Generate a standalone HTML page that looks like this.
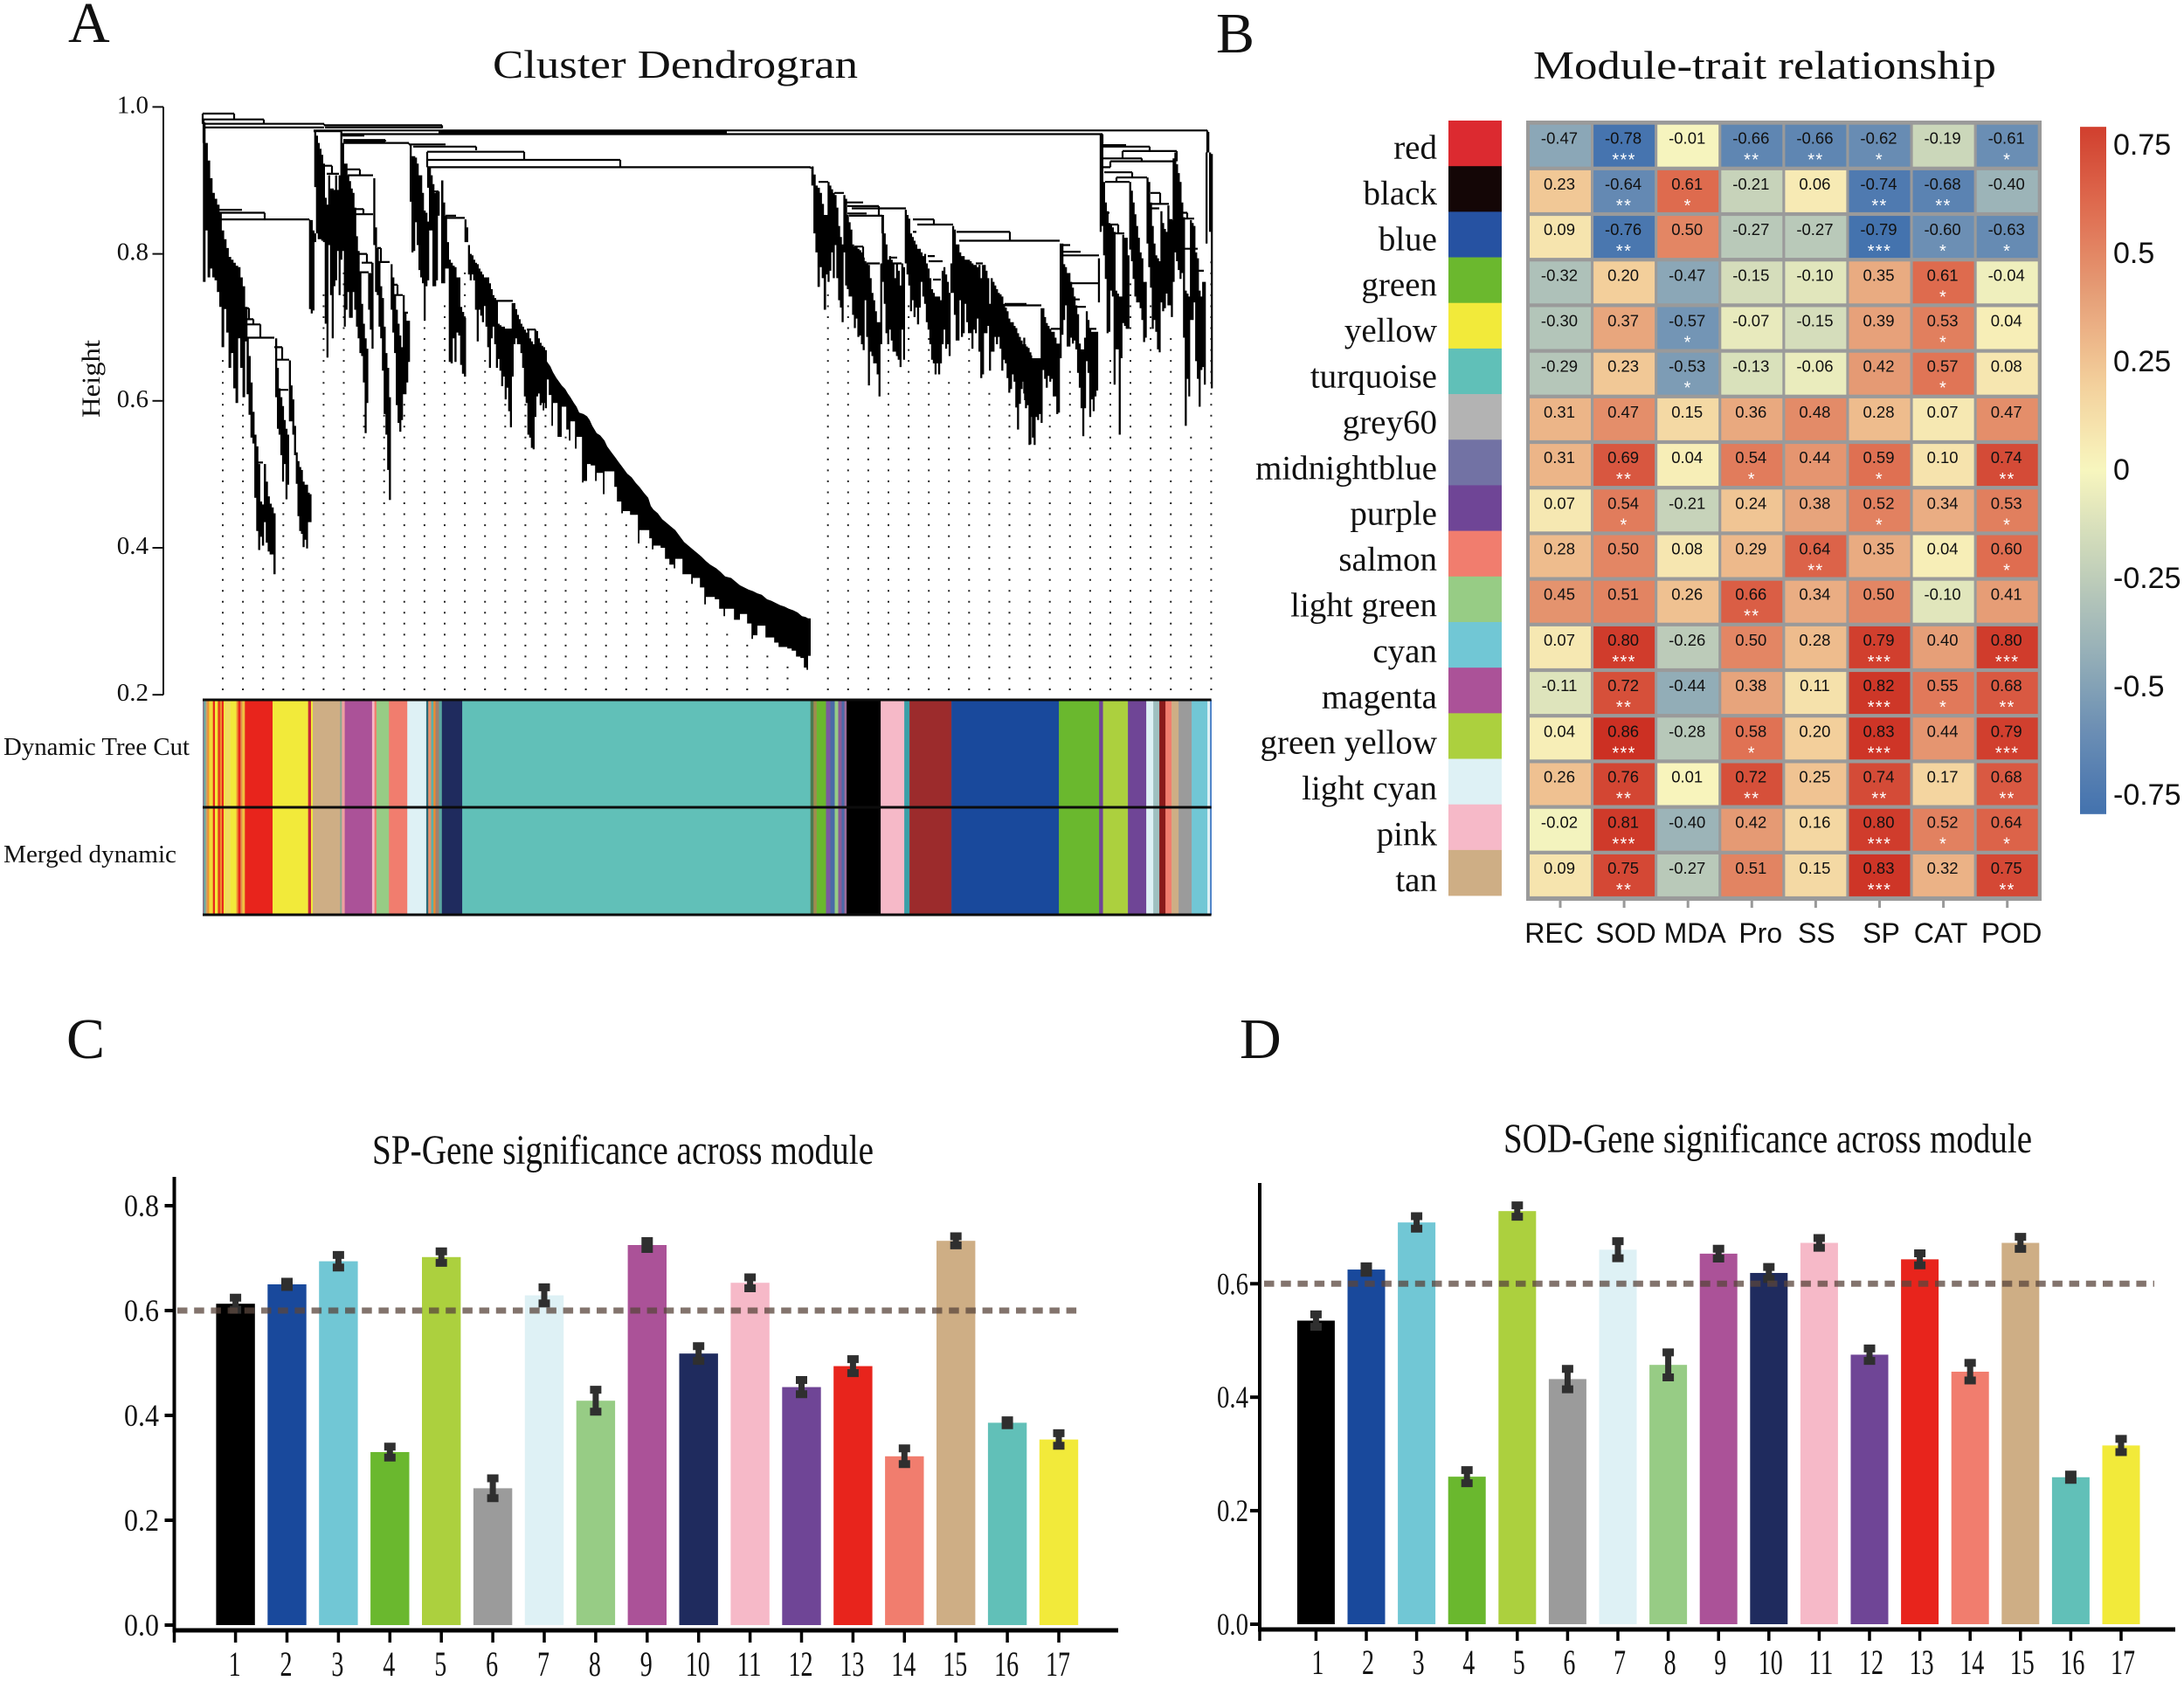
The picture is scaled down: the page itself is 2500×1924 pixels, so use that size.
<!DOCTYPE html>
<html lang="en">
<head>
<meta charset="utf-8">
<title>WGCNA module figure</title>
<style>
html,body{margin:0;padding:0;background:#fff;width:2500px;height:1924px;overflow:hidden}
svg{display:block}
.serif{font-family:"Liberation Serif",serif;fill:#111}
.sans{font-family:"Liberation Sans",sans-serif;fill:#111}
</style>
</head>
<body>
<svg id="fig" xmlns="http://www.w3.org/2000/svg" width="2500" height="1924" viewBox="0 0 2500 1924">
  <rect x="0" y="0" width="2500" height="1924" fill="#fff"/>
  <text class="serif" x="78" y="48" font-size="66">A</text>
  <text class="serif" x="1392" y="60" font-size="66">B</text>
  <text class="serif" x="76" y="1211" font-size="66">C</text>
  <text class="serif" x="1419" y="1211" font-size="66">D</text>

  <text class="serif" x="564" y="89" font-size="45" textLength="418" lengthAdjust="spacingAndGlyphs">Cluster Dendrogran</text>
  <text class="serif" x="1755" y="90" font-size="45" textLength="530" lengthAdjust="spacingAndGlyphs">Module-trait relationship</text>
  <text class="serif" x="426" y="1332" font-size="48" textLength="574" lengthAdjust="spacingAndGlyphs">SP-Gene significance across module</text>
  <text class="serif" x="1721" y="1319" font-size="48" textLength="605" lengthAdjust="spacingAndGlyphs">SOD-Gene significance across module</text>

  <text class="serif" transform="translate(114 478) rotate(-90)" font-size="30" textLength="89" lengthAdjust="spacingAndGlyphs">Height</text>
  <text class="serif" x="4" y="864" font-size="28" textLength="213" lengthAdjust="spacingAndGlyphs">Dynamic Tree Cut</text>
  <text class="serif" x="4" y="987" font-size="28" textLength="198" lengthAdjust="spacingAndGlyphs">Merged dynamic</text>

  <g id="panelA"></g>
  <g id="panelB"></g>
  <g id="panelC"></g>
  <g id="panelD"></g>
</svg>

<script>
/* ---------- Panel A data: leaf rank, heights in thousandths of the Height axis ---------- */
const dendroTicks = [1.0, 0.8, 0.6, 0.4, 0.2];
const guideTops = [669,595,386,475,370,744,774,580,580,595,701,729,788,669,595,610,580,562,473,457,442,413,382,338,307,292,276,263,248,204,744,730,593,685,742,699,639,699,624,608,531,606,653,576,667,770,743,697,561,802];

const treeMerges = [
[0,36,991,977,984],[1,70,983,977,977],[1,139,977,951,975],[3,139,972,0,0],[139,274,975,0,971],[140,274,972,0,0],
[127,1150,968,0,938],[127,158,967,0,0],[158,1030,963,0,950],[270,600,966,0,0],[270,600,965,0,0],
[160,171,963,0,0],[160,185,961,0,0],[161,209,955,0,953],[161,209,953,0,0],[161,236,951,0,949],[236,278,949,0,0],[241,313,946,0,941],[257,368,939,918,929],[258,478,928,0,919],[258,696,918,890,916],
[20,122,847,832,846],[19,71,856,0,848],[19,45,860,0,0],[50,66,704,0,686],[50,82,686,0,0],[50,58,711,0,704],[50,53,726,0,711],
[82,91,673,0,656],[85,99,656,0,0],[87,98,615,0,0],[63,69,516,0,0],
[142,156,909,0,0],[136,148,920,0,909],[137,142,875,0,0],[166,195,907,0,0],[165,180,915,0,907],[172,184,861,0,854],[173,195,854,0,0],[176,188,800,0,788],[182,194,788,0,775],[176,190,775,0,0],[200,214,789,0,0],[200,204,808,0,789],[218,229,744,0,0],[216,223,758,0,744],[230,235,720,0,0],
[265,270,885,0,0],[276,300,849,0,0],[278,290,852,0,0],[336,355,736,0,0],[345,355,697,0,0],[371,381,697,0,0],
[705,716,898,0,0],[723,734,883,0,0],[737,756,870,0,0],[738,774,865,0,852],[743,805,862,0,0],[738,760,855,0,0],[740,778,852,0,828],[746,756,810,0,790],[760,775,787,0,0],[788,800,787,0,0],[786,795,795,0,0],
[813,837,847,0,840],[818,859,840,0,0],[813,817,830,0,0],[831,847,790,0,0],[830,838,797,0,0],[836,845,765,0,0],[863,924,830,0,818],[866,981,818,0,0],[885,893,787,0,0],[918,943,732,0,0],[918,960,730,0,0],
[983,993,812,0,0],[983,1005,803,0,0],[983,1026,798,0,0],[995,1025,760,0,0],[998,1004,738,0,0],[998,1011,728,0,0],[1013,1023,698,0,0],[971,981,698,0,0],
[1031,1057,948,0,0],[1031,1084,946,0,940],[1053,1115,940,930,926],[1031,1075,930,0,926],[1039,1111,926,918,0],[1031,1039,918,0,0],[1032,1064,911,0,904],[1046,1081,904,898,0],[1033,1061,898,0,0],[1035,1038,856,0,0],[1033,1048,840,0,828],[1041,1055,828,0,0],
[1085,1096,883,0,868],[1086,1106,868,0,0],[1086,1095,862,0,0],[1105,1110,846,0,0],[1121,1127,856,0,848],[1121,1135,848,0,0],[1122,1139,807,0,0],[1138,1146,777,0,0]
];

/* each pair is [top height, lowest leaf height] read column by column */
const cladeFirst = [[979,762],[951,832],[927,768],[903,780],[883,768],[875,764],[867,748],[856,728],[832,673],[820,725],[808,693],[796,645],[792,665],[788,617],[784,597],[782,685],[768,645],[756,605],[728,681]];
const cladeSecond = [[685,609],[661,581],[625,550],[585,542],[554,468],[538,423],[514,397],[463,415],[459,403],[514,435],[490,407],[470,395],[460,391],[455,391],[447,364]];
const cladeThird = [[685,605],[645,562],[617,554],[605,526],[593,490],[574,514],[562,466],[554,486],[655,572],[621,572],[602,554],[566,526],[530,487],[518,443],[510,423],[506,419],[490,401],[486,411],[486,399],[475,435],[473,435]];
const cladeFourth = [[846,725],[846,719],[832,723],[828,816]];
const cladeFifth = [[967,891],[961,828],[951,820],[943,820],[935,818],[923,816],[875,705],[867,659]];
const cladeSixth = [[907,812],[889,744],[889,685],[887,756],[907,764],[887,804],[907,744],[967,792],[951,804],[923,701],[923,724],[907,748],[899,713],[889,713],[883,748],[863,724],[824,701],[804,685],[776,665],[732,661],[705,625],[685,556],[671,597],[774,724],[774,697],[788,671],[903,812],[836,748],[808,744],[788,701],[756,685],[740,641],[701,582],[665,554],[645,506],[605,465],[786,724],[768,693],[744,665],[724,594],[705,570],[689,558],[673,574],[744,609],[720,609],[709,625],[709,653]];
const cladeSeventh = [[949,871],[933,802],[933,804],[931,843],[923,812],[907,778],[907,768],[883,760],[859,709],[856,756],[844,764],[917,832],[907,832],[895,756],[883,756],[885,764],[885,852]];
const cladeEighth = [[900,760],[870,760],[852,780],[816,780],[792,653],[788,651],[784,685],[782,653],[768,693],[768,689],[728,649],[721,637],[713,633]];
const cladeNinth = [[847,816],[836,816],[812,772],[800,764],[798,772],[792,764],[788,724],[786,681],[780,724],[776,716],[772,707],[768,729],[768,701],[768,673],[760,645],[752,685],[744,701],[740,677],[736,645],[705,657],[703,641],[701,620],[701,633],[697,602],[697,618],[697,586],[697,564],[733,633],[733,677],[725,685],[717,677],[711,677],[705,665],[701,645],[697,606],[693,597],[697,554],[685,550],[681,536],[677,534],[697,578],[695,606],[685,610],[679,594],[675,597],[673,597],[669,590]];
const cladeEleventh = [[919,893],[908,828],[893,802],[890,755],[883,782],[868,767],[853,724],[853,772]];
const cladeTwelfth = [[898,762],[893,777],[888,802],[883,767],[880,812],[863,767],[838,737],[823,727],[813,707],[880,802],[875,757],[853,752],[843,742],[833,742],[813,717],[810,699],[810,712],[807,687],[805,689],[802,677],[795,669],[790,737],[787,687],[785,621],[767,667],[747,661],[737,651],[722,651],[707,636],[707,606],[787,677],[853,762],[828,732],[813,692],[792,677],[797,697],[792,682],[787,667],[767,667],[787,661],[777,656],[757,646],[787,697],[782,656],[860,787],[853,772],[848,757],[828,722],[823,737],[818,714],[813,727],[807,704],[807,727],[802,762],[797,742],[800,732],[787,707],[780,697],[767,677],[752,656],[747,651],[742,636],[742,651],[742,636],[737,651],[777,677],[782,697],[772,671],[762,677],[747,661],[787,747],[838,747],[833,717],[813,682],[813,682],[802,737],[797,687],[797,692],[792,732],[792,707],[792,692],[790,692],[787,671],[785,697],[785,692],[782,712],[785,667],[767,631],[785,636],[785,692],[777,692],[767,702],[732,641],[767,667],[762,667],[757,687],[752,677],[747,687],[745,671],[742,641],[732,656],[727,651],[722,631],[712,611],[707,616],[707,636],[702,626],[699,591],[692,561],[687,596],[682,616],[677,626],[677,601],[674,596],[672,626],[666,541]];
const cladeThirteenth = [[686,610],[674,590],[666,594],[658,540],[662,578],[658,550],[658,540],[658,578],[658,574],[658,582],[726,570],[726,642],[714,630],[706,618],[702,634],[698,626],[694,630],[694,606],[686,606],[678,582],[678,584],[814,658],[814,690],[786,710],[782,730],[774,674],[774,674],[762,686],[754,678],[742,682],[730,670],[718,638],[678,618],[670,590],[670,552],[686,590],[722,654],[710,638],[698,578],[694,602],[694,586],[694,606],[694,614],[794,734],[962,830],[960,838],[898,798],[870,766],[858,692],[842,694],[840,750],[836,742],[830,622],[750,670],[746,670],[742,554],[742,658],[826,706],[822,702],[822,698],[798,698],[898,806],[886,790],[870,766],[854,742],[838,734],[822,734],[802,726],[794,710],[762,680],[762,686],[904,814],[898,782],[870,754],[838,698],[814,710],[798,694],[794,670],[790,666],[858,734],[842,722],[834,726],[830,746],[866,730],[846,730],[846,714],[930,762],[938,802],[922,790],[910,778],[898,766],[870,774],[850,686],[750,566],[746,630],[742,606],[846,710],[842,710],[838,734],[802,654],[794,630],[750,592],[742,642],[762,646],[762,622],[938,814],[966,938],[938,830],[936,617]];
/* long clade: [leaf rank, top height, lowest leaf height] */
const longCladeTriples = [[388,675,613],[391,660,587],[395,652,629],[398,647,608],[401,639,566],[405,631,597],[408,626,551],[411,621,551],[415,616,592],[418,610,561],[421,605,546],[425,597,572],[428,592,535],[431,584,551],[436,582,489],[440,579,491],[443,574,514],[446,566,512],[451,556,491],[455,553,502],[460,546,473],[463,538,504],[468,530,504],[473,522,483],[476,517,463],[481,509,447],[486,501,450],[491,496,445],[496,488,445],[500,483,406],[505,475,424],[510,468,424],[513,457,413],[516,452,398],[521,447,403],[526,439,400],[531,434,385],[536,429,377],[541,424,372],[546,416,385],[551,408,364],[556,403,364],[561,398,351],[566,393,359],[571,388,346],[576,382,323],[581,377,333],[588,372,330],[593,367,317],[598,361,307],[605,359,317],[610,354,302],[615,349,302],[620,346,310],[625,343,297],[630,341,276],[635,338,281],[640,336,294],[646,330,278],[651,328,278],[656,325,271],[661,322,265],[666,320,265],[671,317,263],[676,315,260],[681,312,252],[686,307,250],[690,306,237],[693,304,234],[696,304,253]];

const cladeFrom = [0.3,50.3,83,121.7,127.7,143.7,237,273,299.7,696.7,715.3,939.3];
const cladeTo   = [48.3,81,122.3,127.7,141.7,235,269,299,391.7,713.3,946.3,1154];
const cladeRows = [cladeFirst,cladeSecond,cladeThird,cladeFourth,cladeFifth,cladeSixth,cladeSeventh,cladeEighth,cladeNinth,cladeEleventh,cladeTwelfth,cladeThirteenth];

/* module strip: colour name and number of leaves */
const stripColors = ['#8a7a90','#5bb0a8','#c9a070','#ee9030','#f2d838','#e8281c','#f2e83a','#e8401c','#ee8a30','#e8281c','#f2e83a','#f0dc60','#f2e83a','#ee9030','#e8281c','#e09050','#f0c040','#e8241c','#f2ea3a','#c8283c','#f2ea3a','#ceae85','#8aa890','#eea0a0','#ab5298','#f6b9c8','#f17d6e','#97cc85','#f17d6e','#def1f5','#2a6a78','#e8906a','#5bb0a8','#ee8a30','#a08070','#5aa6a0','#1f2b5e','#61c0b8','#4a7a50','#a08a50','#6ab82e','#7a5aa0','#4a6aa8','#97cc85','#8a5a98','#4a6aa8','#9a6a98','#000000','#f6b9c8','#3aa0a8','#9c2b2c','#19499c','#6ab82e','#6f4596','#acd03e','#6f4596','#def1f5','#9fc0c0','#8a1a1a','#f17d6e','#ceae85','#9b9b9b','#71c7d5','#def1f5','#4a80c8'];
const stripLeaves = [1.7,1.7,2,2,4.3,2.3,3.3,2.7,2,2,1.3,6.3,7,2,2.7,2,3,31.7,40.7,3.3,2,31.3,2,3.3,31.3,2.7,2.3,14.3,21,21.7,2.3,3.3,2.7,2.3,4,3.3,23.3,398.6,3.5,3.6,10.7,5,5,4,4,3,2.6,39,27,6,48,123,46,4.5,28.5,21,8,7,7,7,8,15,18,3,1.6];

/* ---------- Panel B data ---------- */
const moduleNames = ['red','black','blue','green','yellow','turquoise','grey60','midnightblue','purple','salmon','light green','cyan','magenta','green yellow','light cyan','pink','tan'];
const moduleSwatches = ['#dc2a30','#140606','#2652a2','#6bb82e','#f2ea3a','#60c0b8','#b3b3b3','#7272a4','#6f4596','#f17d6e','#97cc85','#71c7d5','#ab5298','#acd03e','#def1f5','#f6b9c8','#ceae85'];
const traitNames = ['REC','SOD','MDA','Pro','SS','SP','CAT','POD'];
const correlations = [
[-0.47,-0.78,-0.01,-0.66,-0.66,-0.62,-0.19,-0.61],
[0.23,-0.64,0.61,-0.21,0.06,-0.74,-0.68,-0.40],
[0.09,-0.76,0.50,-0.27,-0.27,-0.79,-0.60,-0.63],
[-0.32,0.20,-0.47,-0.15,-0.10,0.35,0.61,-0.04],
[-0.30,0.37,-0.57,-0.07,-0.15,0.39,0.53,0.04],
[-0.29,0.23,-0.53,-0.13,-0.06,0.42,0.57,0.08],
[0.31,0.47,0.15,0.36,0.48,0.28,0.07,0.47],
[0.31,0.69,0.04,0.54,0.44,0.59,0.10,0.74],
[0.07,0.54,-0.21,0.24,0.38,0.52,0.34,0.53],
[0.28,0.50,0.08,0.29,0.64,0.35,0.04,0.60],
[0.45,0.51,0.26,0.66,0.34,0.50,-0.10,0.41],
[0.07,0.80,-0.26,0.50,0.28,0.79,0.40,0.80],
[-0.11,0.72,-0.44,0.38,0.11,0.82,0.55,0.68],
[0.04,0.86,-0.28,0.58,0.20,0.83,0.44,0.79],
[0.26,0.76,0.01,0.72,0.25,0.74,0.17,0.68],
[-0.02,0.81,-0.40,0.42,0.16,0.80,0.52,0.64],
[0.09,0.75,-0.27,0.51,0.15,0.83,0.32,0.75]];
const starCounts = [
[0,3,0,2,2,1,0,1],[0,2,1,0,0,2,2,0],[0,2,0,0,0,3,1,1],[0,0,0,0,0,0,1,0],[0,0,1,0,0,0,1,0],[0,0,1,0,0,0,1,0],[0,0,0,0,0,0,0,0],
[0,2,0,1,0,1,0,2],[0,1,0,0,0,1,0,1],[0,0,0,0,2,0,0,1],[0,0,0,2,0,0,0,0],[0,3,0,0,0,3,0,3],[0,2,0,0,0,3,1,2],[0,3,0,1,0,3,0,3],
[0,2,0,2,0,2,0,2],[0,3,0,0,0,3,1,1],[0,2,0,0,0,3,0,2]];
const colorbarTicks = [0.75,0.5,0.25,0,-0.25,-0.5,-0.75];
const colorbarLabels = ['0.75','0.5','0.25','0','-0.25','-0.5','-0.75'];
const scaleValues = [-0.8,-0.6,-0.4,-0.2,0,0.2,0.4,0.6,0.85];
const scaleColors = ['#4271ae','#6c8fb4','#9cb4b8','#c9d5ba','#f8f6be','#f3cf9b','#e69f78','#df6d50','#cc3023'];

/* ---------- Panels C / D data ---------- */
const barIds = ['1','2','3','4','5','6','7','8','9','10','11','12','13','14','15','16','17'];
const barColors = ['#000000','#19499c','#71c7d5','#6ab82e','#acd03e','#9b9b9b','#def1f5','#97cc85','#ab5298','#1f2b5e','#f6b9c8','#6f4596','#e8241c','#f17d6e','#ceae85','#61c0b8','#f2ea3a'];
const spValues = [0.613,0.650,0.694,0.330,0.702,0.261,0.629,0.428,0.725,0.518,0.653,0.454,0.494,0.322,0.733,0.386,0.354];
const spErrors = [0.0115,0.005,0.012,0.0104,0.011,0.019,0.0154,0.021,0.0075,0.014,0.0104,0.0136,0.0133,0.015,0.0086,0.0047,0.012];
const spTicks = [0.0,0.2,0.4,0.6,0.8];
const sodValues = [0.535,0.625,0.708,0.260,0.728,0.432,0.660,0.457,0.653,0.619,0.672,0.475,0.643,0.445,0.672,0.259,0.315];
const sodErrors = [0.011,0.0056,0.011,0.0116,0.010,0.018,0.015,0.022,0.0086,0.0106,0.0086,0.011,0.0106,0.0155,0.0106,0.0046,0.0116];
const sodTicks = [0.0,0.2,0.4,0.6];
const thresholdValue = 0.6;

/* ---------- helpers and scales ---------- */
const NS = 'http://www.w3.org/2000/svg';
function mk(tag, attrs, parent, txt){
  const el = document.createElementNS(NS, tag);
  for (const k in attrs) el.setAttribute(k, attrs[k]);
  if (txt !== undefined) el.textContent = txt;
  parent.appendChild(el);
  return el;
}
const leafX = leaf => 232 + leaf;
const heightY = h => 122.4 + (1 - h) * 841;
const milliY = m => heightY(m / 1000);

function heatColor(v){
  let i = 0;
  while (i < scaleValues.length - 2 && v > scaleValues[i + 1]) i++;
  const t = Math.max(0, Math.min(1, (v - scaleValues[i]) / (scaleValues[i + 1] - scaleValues[i])));
  const a = scaleColors[i], b = scaleColors[i + 1];
  const ch = (s, p) => parseInt(s.substr(p, 2), 16);
  const c = p => Math.round(ch(a, p) + (ch(b, p) - ch(a, p)) * t);
  return 'rgb(' + c(1) + ',' + c(3) + ',' + c(5) + ')';
}

/* ---------- Panel A ---------- */
(function(){
  const g = document.getElementById('panelA');
  const axis = mk('line', {x1:187,x2:187,y1:heightY(1),y2:heightY(0.2),stroke:'#111','stroke-width':2}, g);
  
  
  dendroTicks.forEach(function(t){
    const tick = mk('line', {x1:174.5,x2:187,y1:heightY(t),y2:heightY(t),stroke:'#111','stroke-width':2}, g);
    
    
    const lab = mk('text', {x:170,y:heightY(t)+7,'text-anchor':'end','font-size':29,class:'serif'}, g, t.toFixed(1));
    
    
  });

  /* guide dots */
  guideTops.forEach(function(top, i){
    const x = 255 + i * 23.09;
    const limit = milliY(top);
    let d = '';
    for (let y = 789; y >= limit; y -= 12.53){
      d += 'M' + (x - 1).toFixed(1) + ' ' + (y - 1).toFixed(1) + 'h2v2h-2z';
    }
    const col = mk('path', {d:d, fill:'#222'}, g);
    
    
  });

  /* clades */
  cladeRows.forEach(function(rows, c){
    const from = cladeFrom[c], to = cladeTo[c];
    const step = rows.length > 1 ? (to - from) / (rows.length - 1) : 2;
    let d = '';
    rows.forEach(function(p, i){
      const x0 = leafX(from + i * step), x1 = x0 + step + 0.3;
      d += 'M' + x0.toFixed(1) + ' ' + milliY(p[0]).toFixed(1) + 'H' + x1.toFixed(1) + 'V' + milliY(p[1]).toFixed(1) + 'H' + x0.toFixed(1) + 'Z';
    });
    const clade = mk('path', {d:d, fill:'#000'}, g);
    
    
  });

  /* long clade: smooth upper edge, solid body and thin hanging leaves */
  let dl = 'M' + leafX(longCladeTriples[0][0]).toFixed(1) + ' ' + milliY(longCladeTriples[0][1]).toFixed(1);
  longCladeTriples.forEach(function(p){
    dl += 'L' + leafX(p[0]).toFixed(1) + ' ' + milliY(p[1]).toFixed(1);
  });
  for (let i = longCladeTriples.length - 1; i >= 0; i--){
    const p = longCladeTriples[i];
    const prev = longCladeTriples[i - 1] || p;
    const x1 = leafX(p[0]), x0 = leafX(prev[0]);
    const yTip = milliY(p[2]);
    const yBody = Math.min(yTip, milliY(prev[2]));
    dl += 'L' + x1.toFixed(1) + ' ' + yTip.toFixed(1);
    dl += 'L' + (x1 - 1.8).toFixed(1) + ' ' + yTip.toFixed(1);
    dl += 'L' + (x1 - 1.8).toFixed(1) + ' ' + yBody.toFixed(1);
    dl += 'L' + x0.toFixed(1) + ' ' + yBody.toFixed(1);
  }
  dl += 'Z';
  const longClade = mk('path', {d:dl, fill:'#000'}, g);
  
  

  /* merges */
  let dm = '';
  treeMerges.forEach(function(m){
    const xa = leafX(m[0]), xb = leafX(m[1]), y = milliY(m[2]);
    dm += 'M' + xa.toFixed(1) + ' ' + y.toFixed(1) + 'H' + xb.toFixed(1);
    if (m[3]) dm += 'M' + xa.toFixed(1) + ' ' + y.toFixed(1) + 'V' + milliY(m[3]).toFixed(1);
    if (m[4]) dm += 'M' + xb.toFixed(1) + ' ' + y.toFixed(1) + 'V' + milliY(m[4]).toFixed(1);
  });
  const merges = mk('path', {d:dm, fill:'none', stroke:'#000', 'stroke-width':2.2}, g);
  
  

  /* module colour strips */
  let leaf = 0;
  stripLeaves.forEach(function(w, i){
    const seg = mk('rect', {x:leafX(leaf), y:801, width:w + 0.3, height:246, fill:stripColors[i]}, g);
    
    
    leaf += w;
  });
  [801, 924, 1047].forEach(function(y){
    const line = mk('line', {x1:232, x2:1386.6, y1:y, y2:y, stroke:'#0c0c0c', 'stroke-width':3}, g);
    
    
  });
})();

/* ---------- Panel B ---------- */
(function(){
  const g = document.getElementById('panelB');
  const rowY = r => 142.7 + r * 52.2;
  const colX = c => 1751 + c * 73.1;

  moduleNames.forEach(function(name, r){
    const sw = mk('rect', {x:1658, y:138 + r * 52.18, width:61, height:52.5, fill:moduleSwatches[r]}, g);
    
    
    const lab = mk('text', {x:1645, y:181.5 + r * 52.4, 'text-anchor':'end', 'font-size':39, class:'serif'}, g, name);
    
    
  });

  const bg = mk('rect', {x:1747, y:138, width:590, height:893, fill:'#9a9a9a'}, g);
  
  

  correlations.forEach(function(row, r){
    row.forEach(function(v, c){
      const cell = mk('rect', {x:colX(c), y:rowY(r), width:70, height:48, fill:heatColor(v)}, g);
      
      
      const t = mk('text', {x:colX(c) + 34, y:rowY(r) + 22, 'text-anchor':'middle', 'font-size':18.5, class:'sans'}, g, v.toFixed(2));
      
      
      const n = starCounts[r][c];
      if (n){
        const s = mk('text', {x:colX(c) + 35, y:rowY(r) + 47, 'text-anchor':'middle', 'font-size':20, 'letter-spacing':1.4, class:'sans', style:'fill:#fff'}, g, '*'.repeat(n));
        
        
      }
    });
  });

  const labelNudge = [-7,2,8,10,1,2,-3,5];
  traitNames.forEach(function(name, c){
    const cx = colX(c) + 35;
    const tick = mk('line', {x1:cx, x2:cx, y1:1031, y2:1039, stroke:'#999', 'stroke-width':3}, g);
    
    
    const lab = mk('text', {x:cx + labelNudge[c], y:1079, 'text-anchor':'middle', 'font-size':32, class:'sans'}, g, name);
    
    
  });

  /* colour bar */
  const barY = v => 537 - v * 496;
  const defs = mk('defs', {}, g);
  const grad = mk('linearGradient', {id:'cbar', x1:0, y1:0, x2:0, y2:1}, defs);
  const vTop = 0.79, vBot = -0.796;
  for (let k = 0; k <= 32; k++){
    const v = vTop + (vBot - vTop) * k / 32;
    mk('stop', {offset:(k / 32), 'stop-color':heatColor(v)}, grad);
  }
  const cb = mk('rect', {x:2381, y:barY(vTop), width:30, height:barY(vBot) - barY(vTop), fill:'url(#cbar)'}, g);
  
  
  colorbarTicks.forEach(function(v, i){
    const lab = mk('text', {x:2419, y:barY(v) + 12, 'font-size':34, class:'sans'}, g, colorbarLabels[i]);
    
    
  });
})();

/* ---------- Panels C & D ---------- */
function drawBars(g, o){
  const y = v => o.zero - v * o.unit;
  const x = i => o.first + i * o.pitch;

  o.values.forEach(function(v, i){
    const bar = mk('rect', {x:x(i) - o.barW / 2, y:y(v), width:o.barW, height:y(0) - y(v), fill:barColors[i]}, g);
    
    
  });

  o.values.forEach(function(v, i){
    const e = o.errors[i];
    const d = 'M' + (x(i) - 6.5) + ' ' + (y(v + e) - 4.5) + 'h13v9h-13z' +
              'M' + (x(i) - 6.5) + ' ' + (y(v - e) - 4.5) + 'h13v9h-13z' +
              'M' + (x(i) - 3.5) + ' ' + y(v + e) + 'h7V' + y(v - e) + 'h-7z';
    const err = mk('path', {d:d, fill:'#2f2f2f'}, g);
    
    
  });

  const dash = mk('line', {x1:o.dashFrom, x2:o.dashTo, y1:y(thresholdValue), y2:y(thresholdValue), stroke:'#5a463c', 'stroke-opacity':0.75, 'stroke-width':7, 'stroke-dasharray':'11.5 7.7'}, g);
  
  

  const ya = mk('line', {x1:o.axisX, x2:o.axisX, y1:o.axisTop, y2:o.axisY + 2, stroke:'#000', 'stroke-width':4}, g);
  
  
  const xa = mk('line', {x1:o.axisX - 2, x2:o.axisEnd, y1:o.axisY, y2:o.axisY, stroke:'#000', 'stroke-width':5}, g);
  
  
  const ot = mk('line', {x1:o.axisX, x2:o.axisX, y1:o.axisY, y2:o.tickEnd, stroke:'#000', 'stroke-width':3.5}, g);
  
  

  o.ticks.forEach(function(t){
    const tk = mk('line', {x1:o.axisX - 11, x2:o.axisX, y1:y(t), y2:y(t), stroke:'#000', 'stroke-width':4}, g);
    
    
    const lab = mk('text', {x:o.yLabelX, y:y(t) + 12, 'font-size':36, textLength:o.yLabelW, lengthAdjust:'spacingAndGlyphs', class:'serif'}, g, t.toFixed(1));
    
    
  });

  barIds.forEach(function(id, i){
    const tk = mk('line', {x1:x(i), x2:x(i), y1:o.axisY, y2:o.tickEnd, stroke:'#000', 'stroke-width':3.5}, g);
    
    
    const w = id.length * 14;
    const lab = mk('text', {x:x(i) + o.xLabelShift - w / 2, y:o.xLabelY, 'font-size':40, textLength:w, lengthAdjust:'spacingAndGlyphs', class:'serif'}, g, id);
    
    
  });
}

drawBars(document.getElementById('panelC'), {
  values:spValues, errors:spErrors, ticks:spTicks,
  zero:1860, unit:600, first:269.6, pitch:58.9, barW:44.4,
  axisX:199.5, axisTop:1347, axisY:1866, axisEnd:1280, tickEnd:1880,
  dashFrom:203, dashTo:1235, yLabelX:142, yLabelW:40, xLabelY:1918, xLabelShift:-1
});
drawBars(document.getElementById('panelD'), {
  values:sodValues, errors:sodErrors, ticks:sodTicks,
  zero:1859, unit:649.5, first:1506.4, pitch:57.6, barW:43,
  axisX:1442, axisTop:1354, axisY:1865, axisEnd:2490, tickEnd:1878,
  dashFrom:1447, dashTo:2466, yLabelX:1393, yLabelW:36, xLabelY:1916, xLabelShift:2
});
</script>
</body>
</html>
